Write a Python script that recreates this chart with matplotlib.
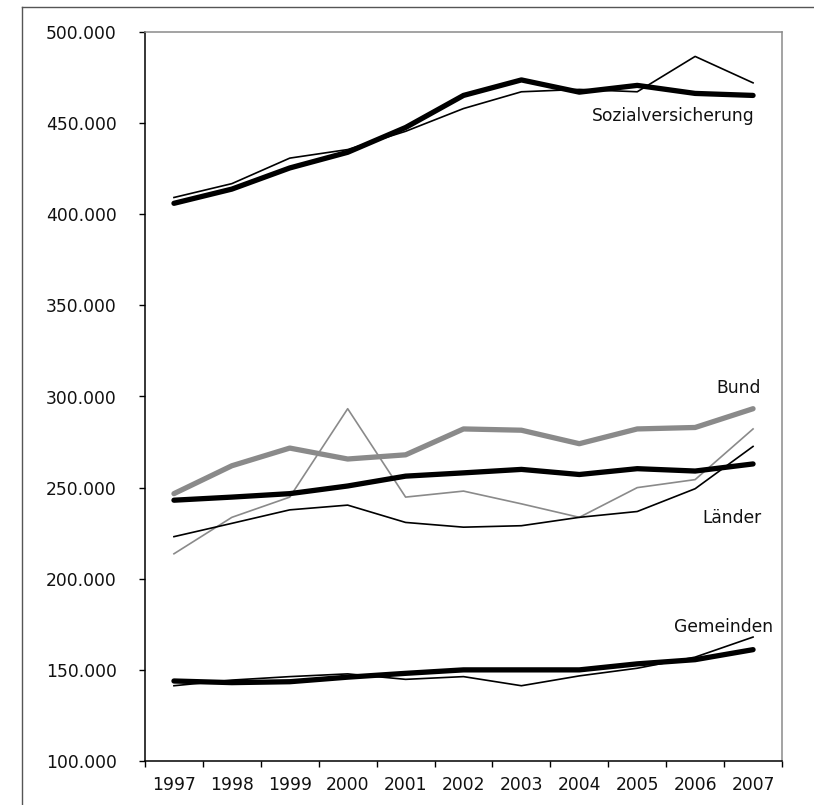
import numpy as np
import matplotlib
matplotlib.use("Agg")
import matplotlib.pyplot as plt
from matplotlib.lines import Line2D

years = ["1997", "1998", "1999", "2000", "2001", "2002", "2003", "2004", "2005", "2006", "2007"]

# values in 1000 (axis shows 100.000 ... 500.000)
sozial_thick = [406, 413.8, 425.4, 434, 447.6, 465.2, 473.7, 467, 470.7, 466.3, 465.2]
sozial_thin = [409.2, 416.8, 430.8, 435.5, 445.5, 458, 467.2, 468.5, 467.2, 486.6, 472.1]
bund_thick = [246.7, 262, 271.7, 265.7, 268, 282.2, 281.5, 274.1, 282.2, 283, 293.3]
bund_thin = [213.7, 233.7, 244.8, 293.3, 244.8, 248.1, 241.1, 233.7, 250, 254.4, 282.2]
laender_thick = [243.1, 244.8, 246.7, 250.9, 256.3, 258.1, 260, 257.2, 260.4, 259.1, 263]
laender_thin = [223.1, 230.4, 237.8, 240.4, 230.9, 228.3, 229.1, 233.7, 236.9, 249.4, 272.6]
gemeinden_thick = [143.9, 143, 143.5, 146, 148.1, 150, 150, 150, 153.3, 155.6, 161.1]
gemeinden_thin = [141.3, 144.4, 146.3, 147.8, 144.8, 146.3, 141.3, 146.7, 150.9, 157, 168]

labels = ["Sozialversicherung", "Bund", "Länder", "Gemeinden"]
label_pos = [(10.03, 454), (10.14, 304.8), (10.15, 233.5), (10.34, 173.4)]

yticks = [100, 150, 200, 250, 300, 350, 400, 450, 500]
ytick_labels = ["100.000", "150.000", "200.000", "250.000", "300.000",
                "350.000", "400.000", "450.000", "500.000"]

plt.rcParams['font.family'] = ['DejaVu Sans']
fs = 12.3

fig = plt.figure(figsize=(8.14, 8.05), dpi=100)
ax = fig.add_axes([145/814, 1-761/805, (782-145)/814, (761-32)/805])

x = np.arange(len(years))
gray = "#8a8a8a"
thin_w = 1.2
thick_w = 3.8

# thin lines first, thick lines on top
ax.plot(x, sozial_thin, color="black", lw=thin_w)
ax.plot(x, bund_thin, color=gray, lw=thin_w)
ax.plot(x, laender_thin, color="black", lw=thin_w)
ax.plot(x, gemeinden_thin, color="black", lw=thin_w)
for ys, c in [(sozial_thick, "black"), (bund_thick, gray),
              (laender_thick, "black"), (gemeinden_thick, "black")]:
    ax.plot(x, ys, color=c, lw=thick_w, solid_capstyle="round", solid_joinstyle="round")

for lab, (px, py) in zip(labels, label_pos):
    ax.text(px, py, lab, ha="right", va="center", fontsize=fs, color="#111111")

ax.set_xlim(-0.5, len(years) - 0.5)
ax.set_ylim(100, 500)
ax.set_yticks(yticks)
ax.set_yticklabels(ytick_labels, fontsize=fs, color="#111111")
ax.set_xticks(x)
ax.set_xticklabels(years, fontsize=fs, color="#111111")
ax.set_xticks(np.arange(-0.5, len(years)), minor=True)
ax.tick_params(axis="x", which="major", length=0, pad=11)
ax.tick_params(axis="x", which="minor", length=4, width=1, direction="out")
ax.tick_params(axis="y", length=4, width=1, direction="out", pad=16.5)

ax.spines["left"].set_color("black")
ax.spines["bottom"].set_color("black")
ax.spines["top"].set_color(gray)
ax.spines["right"].set_color(gray)
for s in ax.spines.values():
    s.set_linewidth(1.1)

# outer frame (top and left edge)
fig.add_artist(Line2D([22/814, 1.0], [1-7/805, 1-7/805], color="#555555", lw=1, transform=fig.transFigure))
fig.add_artist(Line2D([22/814, 22/814], [0.0, 1-7/805], color="#555555", lw=1, transform=fig.transFigure))

fig.savefig("out.png", dpi=100)
